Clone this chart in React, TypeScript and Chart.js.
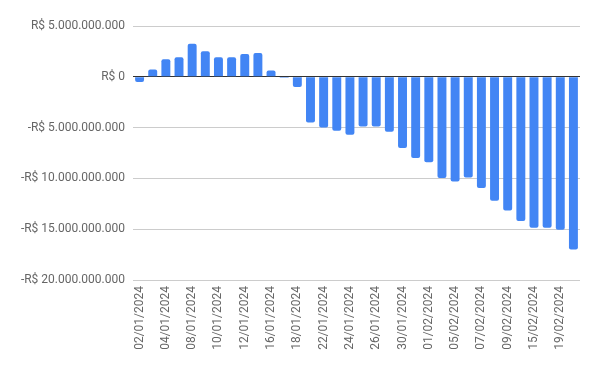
import React, { useEffect, useRef } from "react";
import { Chart, registerables } from "chart.js";

Chart.register(...registerables);

const dates = [
  "02/01/2024", "03/01/2024", "04/01/2024", "05/01/2024", "08/01/2024", "09/01/2024",
  "10/01/2024", "11/01/2024", "12/01/2024", "15/01/2024", "16/01/2024", "17/01/2024",
  "18/01/2024", "19/01/2024", "22/01/2024", "23/01/2024", "24/01/2024", "25/01/2024",
  "26/01/2024", "29/01/2024", "30/01/2024", "31/01/2024", "01/02/2024", "02/02/2024",
  "05/02/2024", "06/02/2024", "07/02/2024", "08/02/2024", "09/02/2024", "14/02/2024",
  "15/02/2024", "16/02/2024", "19/02/2024", "20/02/2024",
];

// values in billions of R$
const valuesBn = [
  -0.5, 0.73, 1.72, 1.92, 3.25, 2.52, 1.92, 1.92, 2.25, 2.35, 0.63, -0.1,
  -1.0, -4.5, -5.0, -5.3, -5.7, -4.9, -4.9, -5.4, -7.0, -8.0, -8.4, -9.95,
  -10.3, -9.9, -10.95, -12.2, -13.15, -14.2, -14.85, -14.85, -15.05, -17.0,
];

const yMin = -20000000000;
const yMax = 5000000000;
const yStep = 5000000000;

function formatBRL(v: number): string {
  const abs = Math.abs(Math.round(v)).toString().replace(/\B(?=(\d{3})+(?!\d))/g, ".");
  return (v < 0 ? "-" : "") + "R$ " + abs;
}

export default function App() {
  const ref = useRef<HTMLCanvasElement | null>(null);
  useEffect(() => {
    if (!ref.current) return;
    const font = { family: "Roboto", size: 12 };
    const chart = new Chart(ref.current, {
      type: "bar",
      data: {
        labels: dates,
        datasets: [
          {
            data: valuesBn.map((v) => v * 1e9),
            backgroundColor: "#4285F4",
            borderRadius: 2,
            borderSkipped: "start",
            barPercentage: 0.68,
            categoryPercentage: 1,
          },
        ],
      },
      options: {
        animation: false,
        responsive: false,
        maintainAspectRatio: false,
        layout: { padding: { top: 26, right: 20, left: 0, bottom: 0 } },
        plugins: { legend: { display: false }, tooltip: { enabled: false } },
        scales: {
          x: {
            grid: { display: false, drawTicks: false },
            border: { display: false },
            ticks: {
              autoSkip: false,
              maxRotation: 90,
              minRotation: 90,
              padding: 6,
              color: "#666",
              font,
              callback: (_v: any, i: number) => (i % 2 === 0 ? dates[i] : ""),
            },
            afterFit: (s: any) => {
              s.height = 91;
            },
          },
          y: {
            min: yMin,
            max: yMax,
            border: { display: false },
            grid: {
              drawTicks: false,
              color: (ctx: any) => (ctx.tick && ctx.tick.value === 0 ? "#333" : "#ccc"),
              lineWidth: 1,
            },
            ticks: {
              stepSize: yStep,
              padding: 8,
              color: "#666",
              font,
              callback: (v: any) => formatBRL(Number(v)),
            },
            afterFit: (s: any) => {
              s.width = 133;
            },
          },
        },
      },
    });
    return () => chart.destroy();
  }, []);
  return (
    <div style={{ position: "absolute", left: 0, top: 0, width: 600, height: 371, background: "#fff" }}>
      <canvas ref={ref} width={600} height={371} style={{ width: 600, height: 371 }} />
    </div>
  );
}
